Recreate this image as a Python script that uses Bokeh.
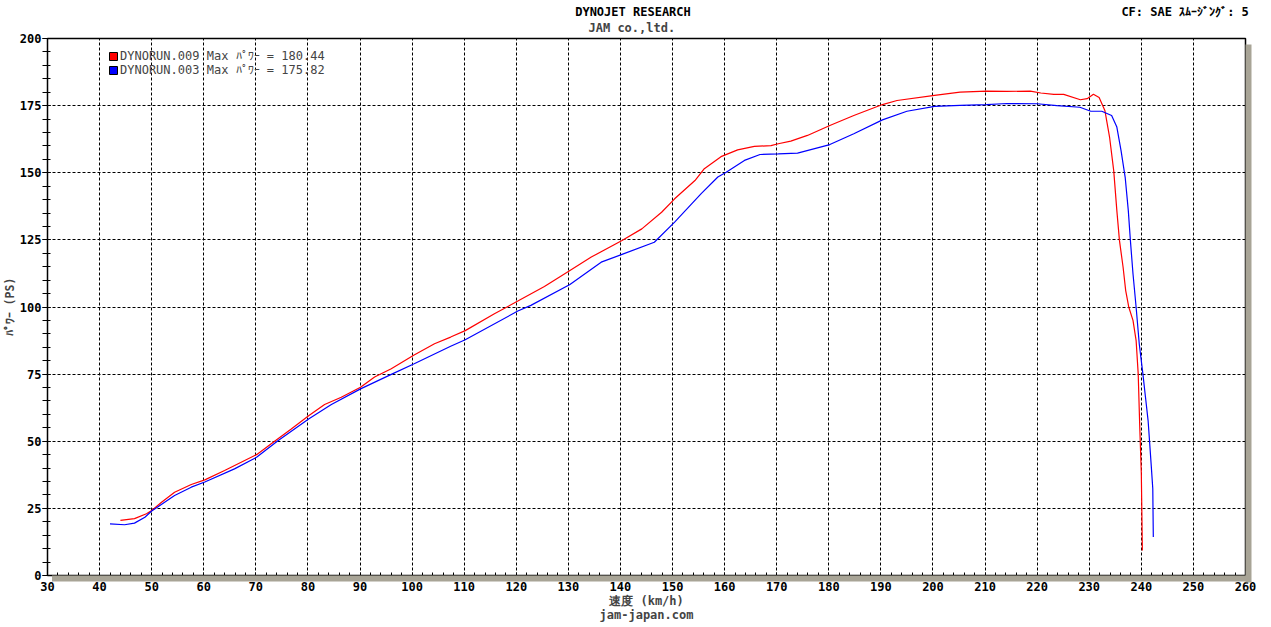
from bokeh.plotting import figure
from bokeh.models import (Range1d, FixedTicker, Legend, LegendItem, LinearAxis, Title,
                          ColumnDataSource)
from bokeh.embed import file_html
from bokeh.resources import INLINE

# ---- data ----
speed_009 = [44.0, 46.7, 49.0, 50.0, 51.9, 54.4, 57.6, 60.2, 64.0, 70.2, 73.6, 76.8, 80.2, 83.2,
             86.4, 90.1, 92.8, 96.0, 100.3, 104.3, 107.4, 110.2, 115.8, 120.3, 125.4, 130.3,
             134.4, 140.3, 144.1, 147.9, 150.4, 154.3, 156.1, 159.3, 162.5, 165.7, 168.9, 170.3,
             172.7, 175.9, 180.2, 184.8, 190.3, 193.1, 200.3, 205.2, 210.3, 214.2, 218.7, 220.7,
             223.2, 225.1, 228.3, 229.6, 230.8, 231.9, 233.0, 233.9, 234.7, 235.3, 235.8, 236.5,
             237.0, 237.6, 238.4, 239.0, 239.4, 239.7, 240.0, 240.2]
power_009 = [20.5, 21.2, 23.0, 24.2, 27.3, 31.0, 33.9, 35.6, 39.1, 45.1, 50.0, 54.6, 59.6, 63.7,
             66.4, 70.1, 73.9, 77.0, 82.0, 86.3, 88.8, 91.2, 97.5, 102.2, 107.6, 113.6,
             118.6, 124.8, 129.1, 135.3, 140.3, 147.1, 151.5, 156.0, 158.5, 159.8, 160.1, 160.8,
             161.8, 163.9, 167.6, 171.3, 175.4, 176.9, 178.8, 180.0, 180.4, 180.3, 180.4, 179.7,
             179.2, 179.2, 177.2, 177.6, 179.2, 178.0, 173.2, 163.3, 150.8, 135.9, 124.8, 114.8,
             106.1, 99.9, 95.0, 87.5, 75.1, 55.2, 37.9, 9.3]

speed_003 = [42.0, 44.8, 46.7, 48.7, 50.0, 54.4, 57.6, 60.2, 65.9, 70.2, 74.3, 80.2, 84.5, 90.1,
             96.0, 100.3, 107.4, 110.2, 120.3, 122.8, 130.3, 136.3, 140.3, 146.5, 150.4, 155.5,
             158.7, 160.3, 163.8, 166.8, 170.3, 174.0, 180.2, 184.8, 190.3, 195.0, 200.3, 205.2,
             210.3, 214.2, 220.0, 223.8, 228.2, 230.3, 232.4, 234.3, 235.3, 236.1, 236.9, 237.5,
             237.9, 238.4, 239.0, 239.6, 240.3, 240.8, 241.3, 241.9, 242.2, 242.3]
power_003 = [19.2, 18.9, 19.5, 21.7, 24.0, 29.8, 32.9, 34.8, 39.7, 44.1, 50.3, 58.4, 63.7, 69.5,
             74.9, 78.8, 85.4, 87.8, 98.5, 100.6, 108.4, 116.7, 119.6, 124.1, 131.6, 142.2,
             148.4, 150.2, 154.6, 156.8, 157.0, 157.3, 160.5, 164.5, 169.7, 172.9, 174.7, 175.1,
             175.4, 175.8, 175.7, 175.0, 174.4, 172.9, 172.9, 171.3, 167.0, 158.3, 148.3, 135.9,
             124.8, 112.4, 99.9, 86.3, 75.1, 66.4, 57.7, 41.0, 32.3, 14.3]

x_ticks = list(range(30, 261, 10))
x_minor = list(range(30, 261, 2))
y_ticks = list(range(0, 201, 25))
y_minor = list(range(0, 201, 5))

legend_labels = ["DYNORUN.009 Max \uff8a\uff9f\uff9c\uff70 = 180.44",
                 "DYNORUN.003 Max \uff8a\uff9f\uff9c\uff70 = 175.82"]
series_colors = ["#ff0000", "#0000ff"]

title1 = "DYNOJET  RESEARCH"
title2 = "JAM co.,ltd."
corner_text = "CF: SAE  \uff7d\uff91\uff70\uff7c\uff9e\uff9d\uff78\uff9e: 5"
y_label = "\uff8a\uff9f\uff9c\uff70 (PS)"
x_label = "速度 (km/h)"
footer = "jam-japan.com"

MONO = "DejaVu Sans Mono"
SHADOW = "#a8a496"

p = figure(width=1271, height=627, output_backend="svg", toolbar_location=None,
           x_range=Range1d(30, 260), y_range=Range1d(0, 200),
           min_border_left=46, min_border_right=26, min_border_top=38, min_border_bottom=52)
p.title = None
p.background_fill_color = "white"
p.border_fill_color = "white"
p.outline_line_color = "black"
p.outline_line_width = 1.5

# ---- x axis closest to the frame: black small ticks + gray shadow band, no labels ----
xa = p.xaxis[0]
xa.ticker = FixedTicker(ticks=x_minor, minor_ticks=x_minor[1:])
xa.axis_line_color = None
xa.major_tick_line_color = "black"
xa.major_tick_in = 3
xa.major_tick_out = 0
xa.minor_tick_line_color = SHADOW
xa.minor_tick_line_width = 11
xa.minor_tick_in = 0
xa.minor_tick_out = 6
xa.major_label_text_color = None
xa.major_label_text_font_size = "0px"
xa.major_label_standoff = 0

# ---- x axis with the labels (axis title and site name as two lines) ----
xl = LinearAxis(ticker=FixedTicker(ticks=x_ticks, minor_ticks=[]),
                axis_line_color=None, major_tick_line_color=None, minor_tick_line_color=None,
                major_tick_in=0, major_tick_out=0, major_label_standoff=0,
                major_label_text_font=MONO, major_label_text_font_style="bold",
                major_label_text_font_size="12px", major_label_text_color="black",
                axis_label=x_label + "\n" + footer, axis_label_text_font=MONO,
                axis_label_text_font_style="bold", axis_label_text_font_size="12px",
                axis_label_standoff=0, axis_label_text_line_height=1.0)
p.add_layout(xl, "below")

# ---- y axis ----
ya = p.yaxis[0]
ya.ticker = FixedTicker(ticks=y_ticks, minor_ticks=y_minor)
ya.axis_line_color = "black"
ya.major_tick_line_color = "black"
ya.minor_tick_line_color = "black"
ya.major_tick_in = 3
ya.major_tick_out = 5
ya.minor_tick_in = 3
ya.minor_tick_out = 5
ya.major_label_standoff = 1
ya.major_label_text_font = MONO
ya.major_label_text_font_style = "bold"
ya.major_label_text_font_size = "12px"
ya.major_label_text_color = "black"
p.add_layout(Title(text=y_label, align="center", standoff=0,
                   text_font=MONO, text_font_style="bold", text_font_size="11.5px"), "left")

# ---- right shadow band ----
ra = LinearAxis(ticker=FixedTicker(ticks=y_minor[:-1], minor_ticks=[]),
                axis_line_color=None, major_tick_line_color=SHADOW, major_tick_line_width=14,
                major_tick_in=0, major_tick_out=6, major_label_text_color=None,
                major_label_text_font_size="0px", major_label_standoff=0)
p.add_layout(ra, "right")

# ---- texts above the frame ----
p.add_layout(Title(text=title2, align="left", offset=541, standoff=4, vertical_align="top",
                   text_font=MONO, text_font_style="bold", text_font_size="12px"), "above")
title_pos = {143.1: title1, 249.1: corner_text}
ta = LinearAxis(ticker=FixedTicker(ticks=list(title_pos.keys()), minor_ticks=[]),
                major_label_overrides=title_pos,
                axis_line_color=None, major_tick_line_color=None, minor_tick_line_color=None,
                major_tick_in=0, major_tick_out=0, major_label_standoff=0,
                major_label_text_font=MONO, major_label_text_font_style="bold",
                major_label_text_font_size="12px", major_label_text_color="black")
p.add_layout(ta, "above")

# grid
p.xgrid.ticker = FixedTicker(ticks=x_ticks)
p.ygrid.ticker = FixedTicker(ticks=y_ticks)
p.xgrid.grid_line_color = "black"
p.ygrid.grid_line_color = "black"
p.xgrid.grid_line_dash = "3 2"
p.ygrid.grid_line_dash = "3 2"

# curves
r1 = p.line(speed_009, power_009, line_color=series_colors[0], line_width=1.2)
r2 = p.line(speed_003, power_003, line_color=series_colors[1], line_width=1.2)

# legend swatches: single NaN row so that nothing is drawn in the plot itself
nan = float("nan")
sw_src = ColumnDataSource(dict(l=[nan], r=[nan], t=[nan], b=[nan]))
q1 = p.quad(left="l", right="r", top="t", bottom="b", source=sw_src,
            fill_color=series_colors[0], line_color="black")
q2 = p.quad(left="l", right="r", top="t", bottom="b", source=sw_src,
            fill_color=series_colors[1], line_color="black")
legend = Legend(items=[LegendItem(label=legend_labels[0], renderers=[q1]),
                       LegendItem(label=legend_labels[1], renderers=[q2])],
                location=(61, 498), glyph_width=10, glyph_height=10, label_height=12,
                label_standoff=2, padding=0, spacing=-2, margin=0,
                border_line_color=None, background_fill_alpha=0,
                label_text_font=MONO, label_text_font_size="12px",
                label_text_baseline="middle")
p.add_layout(legend)

open("out.html", "w").write(file_html(p, INLINE))
